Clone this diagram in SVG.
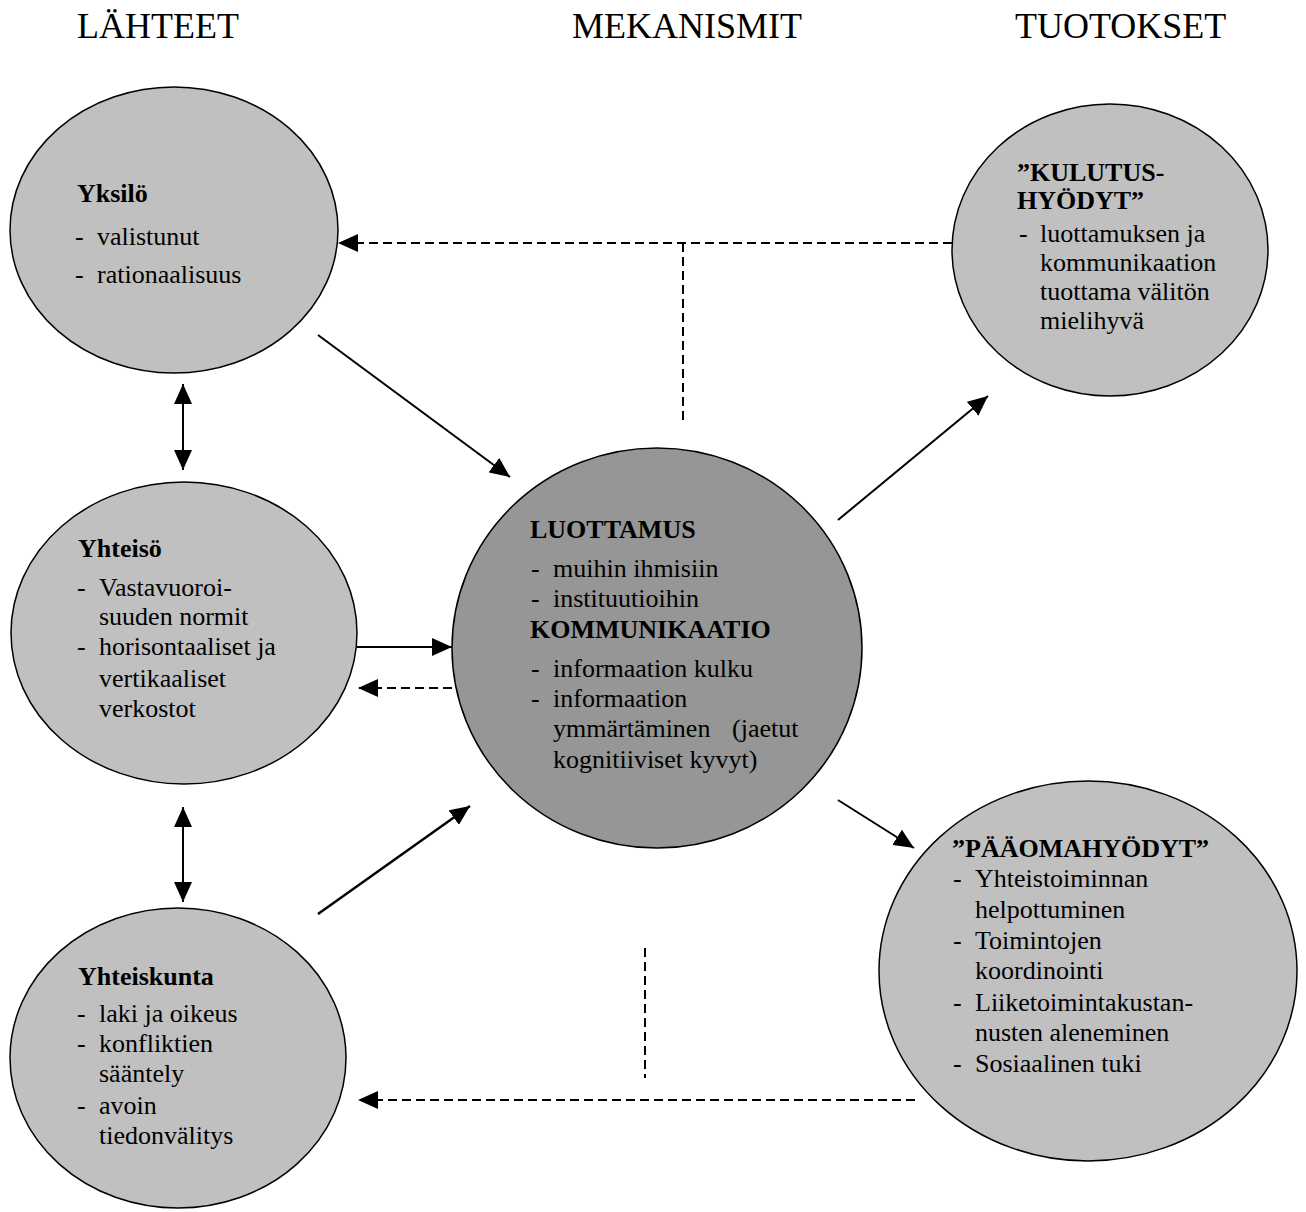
<svg xmlns="http://www.w3.org/2000/svg" width="1306" height="1212" viewBox="0 0 1306 1212">
<defs>
<style>
text{font-family:"Liberation Serif","Times New Roman",serif;fill:#000}
.t{font-size:36px}
.b{font-size:26px}
.h{font-size:26px;font-weight:bold}
.node{fill:#c0c0c0;stroke:#000;stroke-width:1.5}
.core{fill:#969696;stroke:#000;stroke-width:1.5}
.c{stroke:#000;stroke-width:2;fill:none}
.d{stroke:#000;stroke-width:2;fill:none;stroke-dasharray:9,5}
</style>
<marker id="ah" markerUnits="userSpaceOnUse" markerWidth="20" markerHeight="18" refX="20" refY="9" orient="auto-start-reverse">
<path d="M0,0 L20,9 L0,18 z" fill="#000"/>
</marker>
</defs>
<rect width="1306" height="1212" fill="#fff"/>
<g id="titles">
<text class="t" x="77" y="38">LÄHTEET</text>
<text class="t" x="572" y="38">MEKANISMIT</text>
<text class="t" x="1015" y="38">TUOTOKSET</text>
</g>
<g id="connectors">
<line class="d" x1="952" y1="243" x2="338" y2="243" marker-end="url(#ah)"/>
<line class="d" x1="683" y1="243" x2="683" y2="422"/>
<line class="c" x1="318" y1="335" x2="510" y2="477" marker-end="url(#ah)"/>
<line class="c" x1="838" y1="520" x2="988" y2="396" marker-end="url(#ah)"/>
<line class="c" x1="183" y1="384" x2="183" y2="470" marker-start="url(#ah)" marker-end="url(#ah)"/>
<line class="c" x1="357" y1="647" x2="452" y2="647" marker-end="url(#ah)"/>
<line class="d" x1="452" y1="688" x2="358" y2="688" marker-end="url(#ah)"/>
<line class="c" x1="183" y1="807" x2="183" y2="902" marker-start="url(#ah)" marker-end="url(#ah)"/>
<line class="c" style="stroke-width:2.5" x1="318" y1="914" x2="470" y2="806" marker-end="url(#ah)"/>
<line class="c" x1="838" y1="800" x2="914" y2="848" marker-end="url(#ah)"/>
<line class="d" x1="915" y1="1100" x2="358" y2="1100" marker-end="url(#ah)"/>
<line class="d" x1="645" y1="948" x2="645" y2="1078"/>
</g>
<g id="yksilo">
<ellipse class="node" cx="174" cy="230" rx="164" ry="143"/>
<text class="h" x="77" y="202">Yksilö</text>
<text class="b" x="75" y="245">-</text><text class="b" x="97" y="245">valistunut</text>
<text class="b" x="75" y="283">-</text><text class="b" x="97" y="283">rationaalisuus</text>
</g>
<g id="yhteiso">
<ellipse class="node" cx="184" cy="633" rx="173" ry="151"/>
<text class="h" x="78" y="557">Yhteisö</text>
<text class="b" x="77" y="596">-</text><text class="b" x="99" y="596">Vastavuoroi-</text>
<text class="b" x="99" y="625">suuden normit</text>
<text class="b" x="77" y="655">-</text><text class="b" x="99" y="655">horisontaaliset ja</text>
<text class="b" x="99" y="687">vertikaaliset</text>
<text class="b" x="99" y="717">verkostot</text>
</g>
<g id="yhteiskunta">
<ellipse class="node" cx="178" cy="1058" rx="168" ry="150"/>
<text class="h" x="78" y="985">Yhteiskunta</text>
<text class="b" x="77" y="1022">-</text><text class="b" x="99" y="1022">laki ja oikeus</text>
<text class="b" x="77" y="1052">-</text><text class="b" x="99" y="1052">konfliktien</text>
<text class="b" x="99" y="1082">sääntely</text>
<text class="b" x="77" y="1114">-</text><text class="b" x="99" y="1114">avoin</text>
<text class="b" x="99" y="1144">tiedonvälitys</text>
</g>
<g id="keskus">
<ellipse class="core" cx="657" cy="648" rx="205" ry="200"/>
<text class="h" x="530" y="538">LUOTTAMUS</text>
<text class="b" x="531" y="577">-</text><text class="b" x="553" y="577">muihin ihmisiin</text>
<text class="b" x="531" y="607">-</text><text class="b" x="553" y="607">instituutioihin</text>
<text class="h" x="530" y="638">KOMMUNIKAATIO</text>
<text class="b" x="531" y="677">-</text><text class="b" x="553" y="677">informaation kulku</text>
<text class="b" x="531" y="707">-</text><text class="b" x="553" y="707">informaation</text>
<text class="b" x="553" y="737">ymmärtäminen</text><text class="b" x="732" y="737">(jaetut</text>
<text class="b" x="553" y="768">kognitiiviset kyvyt)</text>
</g>
<g id="kulutus">
<ellipse class="node" cx="1110" cy="250" rx="158" ry="146"/>
<text class="h" x="1017" y="181">”KULUTUS-</text>
<text class="h" x="1017" y="209">HYÖDYT”</text>
<text class="b" x="1019" y="242">-</text><text class="b" x="1040" y="242">luottamuksen ja</text>
<text class="b" x="1040" y="271">kommunikaation</text>
<text class="b" x="1040" y="300">tuottama välitön</text>
<text class="b" x="1040" y="329">mielihyvä</text>
</g>
<g id="paaoma">
<ellipse class="node" cx="1088" cy="971" rx="209" ry="190"/>
<text class="h" x="952" y="857">”PÄÄOMAHYÖDYT”</text>
<text class="b" x="953" y="887">-</text><text class="b" x="975" y="887">Yhteistoiminnan</text>
<text class="b" x="975" y="918">helpottuminen</text>
<text class="b" x="953" y="949">-</text><text class="b" x="975" y="949">Toimintojen</text>
<text class="b" x="975" y="979">koordinointi</text>
<text class="b" x="953" y="1011">-</text><text class="b" x="975" y="1011">Liiketoimintakustan-</text>
<text class="b" x="975" y="1041">nusten aleneminen</text>
<text class="b" x="953" y="1072">-</text><text class="b" x="975" y="1072">Sosiaalinen tuki</text>
</g>
</svg>
